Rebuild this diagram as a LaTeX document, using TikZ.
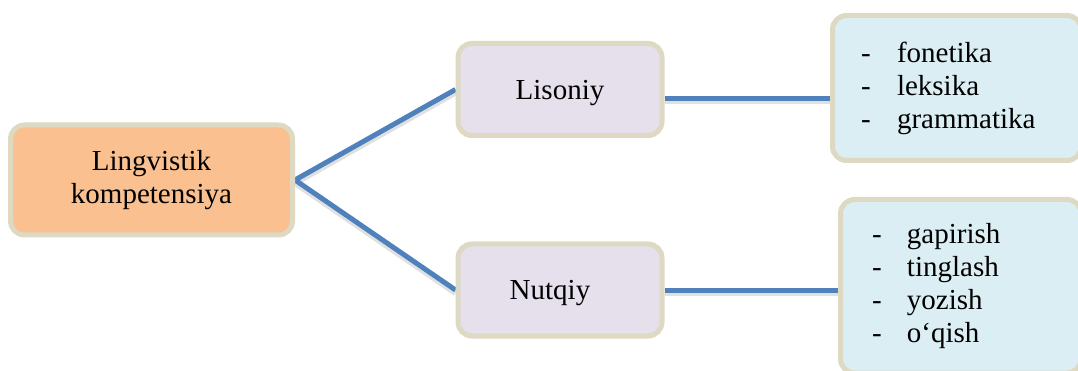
\documentclass[tikz,border=0pt]{standalone}
\usepackage{fontspec}
\setmainfont{Liberation Serif}
\usetikzlibrary{backgrounds}
\definecolor{boxedge}{RGB}{221,217,195}
\definecolor{rootfill}{RGB}{250,192,144}
\definecolor{midfill}{RGB}{229,224,236}
\definecolor{leaffill}{RGB}{219,238,244}
\definecolor{linkblue}{RGB}{79,129,189}

\begin{document}
\begin{tikzpicture}[x=1pt,y=-1pt,
    box/.style={draw=boxedge, line width=5pt, rounded corners=14pt, font=\fontsize{29}{33}\selectfont},
    link/.style={draw=linkblue, line width=5pt},
    linkshade/.style={draw=black, opacity=0.12, line width=6pt, transform canvas={yshift=-3pt}}]
    \useasboundingbox (0,0) rectangle (1078,371);
    \clip (0,0) rectangle (1078,371);

    \node [box, fill=rootfill, minimum width=282pt, minimum height=110pt, align=center] (root) at (151.5,180) {Lingvistik\\kompetensiya};
    \node [box, fill=midfill, minimum width=204pt, minimum height=92pt, text depth=0pt] (lisoniy) at (560,89.5) {Lisoniy};
    \node [box, fill=midfill, minimum width=204pt, minimum height=92pt, text depth=0pt] (nutqiy) at (560,290) {Nutqiy\hspace*{20pt}};
    \node [box, fill=leaffill, minimum width=248.5pt, minimum height=145pt, inner xsep=28.5pt, text width=191.5pt, align=left] (lisitems) at (956.75,88)
        {\makebox[36pt][l]{-}fonetika\\\makebox[36pt][l]{-}leksika\\\makebox[36pt][l]{-}grammatika};
    \node [box, fill=leaffill, minimum width=240.5pt, minimum height=173.5pt, inner xsep=31.5pt, text width=177.5pt, align=left] (nutitems) at (960.75,286.25)
        {\makebox[35pt][l]{-}gapirish\\\makebox[35pt][l]{-}tinglash\\\makebox[35pt][l]{-}yozish\\\makebox[35pt][l]{-}o‘qish};

    \begin{pgfonlayer}{background}
    \coordinate (lisout) at ([yshift=-9pt]lisoniy.east);
    \draw [linkshade] (lisoniy.west) -- (root.east) -- (nutqiy.west);
    \draw [linkshade] (lisout) -- (lisout -| lisitems.west);
    \draw [linkshade] (nutqiy.east) -- (nutqiy.east -| nutitems.west);
    \draw [link] (lisoniy.west) -- (root.east) -- (nutqiy.west);
    \draw [link] (lisout) -- (lisout -| lisitems.west);
    \draw [link] (nutqiy.east) -- (nutqiy.east -| nutitems.west);
    \end{pgfonlayer}
\end{tikzpicture}
\end{document}
